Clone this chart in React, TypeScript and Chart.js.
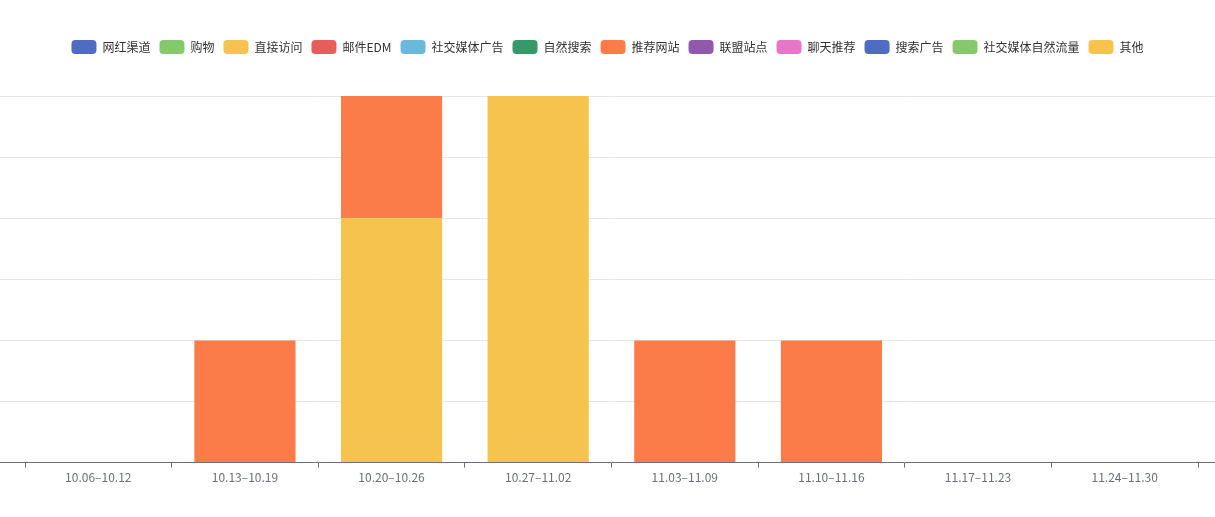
import React, { useEffect, useRef } from "react";
import { Chart, registerables } from "chart.js";

Chart.register(...registerables);

const categories = [
  "10.06–10.12",
  "10.13–10.19",
  "10.20–10.26",
  "10.27–11.02",
  "11.03–11.09",
  "11.10–11.16",
  "11.17–11.23",
  "11.24–11.30",
];

const seriesNames = [
  "网红渠道",
  "购物",
  "直接访问",
  "邮件EDM",
  "社交媒体广告",
  "自然搜索",
  "推荐网站",
  "联盟站点",
  "聊天推荐",
  "搜索广告",
  "社交媒体自然流量",
  "其他",
];

const influencer = [0, 0, 0, 0, 0, 0, 0, 0];
const shopping = [0, 0, 0, 0, 0, 0, 0, 0];
const direct = [0, 0, 4, 6, 0, 0, 0, 0];
const emailEdm = [0, 0, 0, 0, 0, 0, 0, 0];
const socialAds = [0, 0, 0, 0, 0, 0, 0, 0];
const organicSearch = [0, 0, 0, 0, 0, 0, 0, 0];
const referral = [0, 2, 2, 0, 2, 2, 0, 0];
const affiliate = [0, 0, 0, 0, 0, 0, 0, 0];
const chat = [0, 0, 0, 0, 0, 0, 0, 0];
const searchAds = [0, 0, 0, 0, 0, 0, 0, 0];
const socialOrganic = [0, 0, 0, 0, 0, 0, 0, 0];
const other = [0, 0, 0, 0, 0, 0, 0, 0];

const seriesValues = [
  influencer,
  shopping,
  direct,
  emailEdm,
  socialAds,
  organicSearch,
  referral,
  affiliate,
  chat,
  searchAds,
  socialOrganic,
  other,
];

const palette = [
  "#4f6bc2",
  "#86c96c",
  "#f6c34f",
  "#e95c5c",
  "#6bb9da",
  "#35996a",
  "#fb7c48",
  "#9158ab",
  "#e775c8",
  "#4f6bc2",
  "#86c96c",
  "#f6c34f",
];

const yMin = 0;
const yMax = 6;
const yStep = 1;

const FONT = '"Noto Sans CJK SC", "Noto Sans", sans-serif';
const AXIS = "#6e7079";
const GRID = "#e3e5ea";

const legendSpacer = {
  id: "legendSpacer",
  beforeInit(chart: any) {
    const legend = chart.legend;
    if (legend && !legend.__patched) {
      const orig = legend.fit;
      legend.fit = function () {
        orig.call(this);
        this.height += 32;
      };
      legend.__patched = true;
    }
  },
};

export default function App() {
  const ref = useRef<HTMLCanvasElement | null>(null);

  useEffect(() => {
    if (!ref.current) return;
    const gridColor = (ctx: any) =>
      ctx.tick && ctx.tick.value === 0 ? AXIS : GRID;
    const chart = new Chart(ref.current, {
      type: "bar",
      data: {
        labels: categories,
        datasets: seriesNames.map((name, i) => ({
          label: name,
          data: seriesValues[i],
          backgroundColor: palette[i],
          borderWidth: 0,
          stack: "total",
          categoryPercentage: 1,
          barPercentage: 0.69,
        })),
      },
      plugins: [legendSpacer],
      options: {
        animation: false,
        responsive: true,
        maintainAspectRatio: false,
        layout: { padding: { top: 31, bottom: 29, left: 0, right: 0 } },
        plugins: {
          legend: {
            position: "top",
            labels: {
              boxWidth: 25,
              boxHeight: 14,
              useBorderRadius: true,
              borderRadius: 4,
              padding: 9,
              color: "#333",
              font: { family: FONT, size: 12 },
            },
          },
          tooltip: { enabled: true },
        },
        scales: {
          x: {
            stacked: true,
            border: { display: false },
            grid: {
              display: true,
              drawOnChartArea: false,
              drawTicks: true,
              tickLength: 5,
              color: AXIS,
              offset: true,
            },
            ticks: {
              color: AXIS,
              font: { family: FONT, size: 12 },
              maxRotation: 0,
              autoSkip: false,
              padding: 3,
            },
          },
          y: {
            stacked: true,
            position: "left",
            min: yMin,
            max: yMax,
            border: { display: false },
            grid: {
              color: gridColor,
              drawTicks: true,
              tickLength: 25,
            },
            ticks: { display: false, stepSize: yStep },
          },
          y2: {
            display: true,
            position: "right",
            min: yMin,
            max: yMax,
            border: { display: false },
            grid: {
              color: gridColor,
              drawOnChartArea: false,
              drawTicks: true,
              tickLength: 17,
            },
            ticks: { display: false, stepSize: yStep },
          },
        },
      },
    });
    return () => chart.destroy();
  }, []);

  return (
    <div
      style={{
        position: "fixed",
        left: 0,
        top: 0,
        width: 1215,
        height: 517,
        background: "#fff",
      }}
    >
      <canvas ref={ref} />
    </div>
  );
}
